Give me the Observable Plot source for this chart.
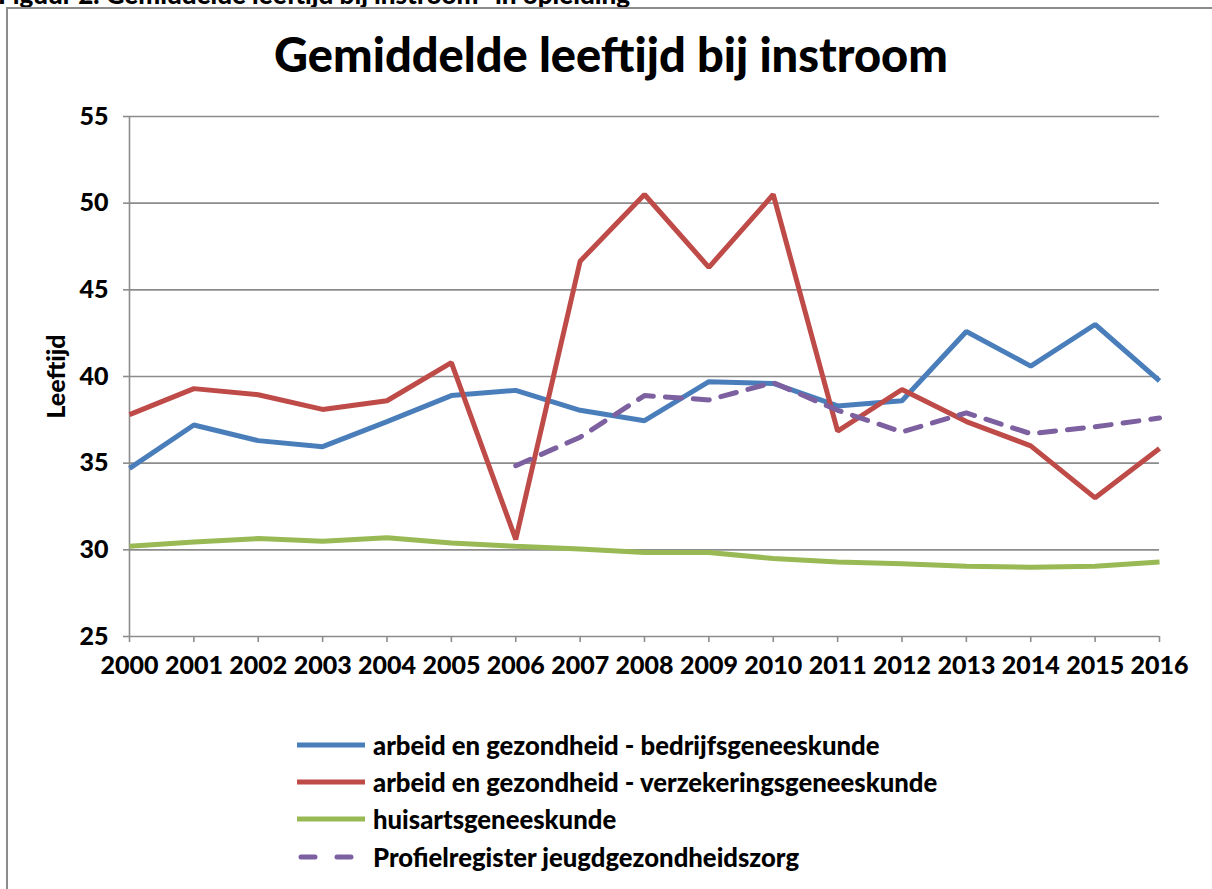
<!DOCTYPE html>
<html>
<head>
<meta charset="utf-8">
<script src="https://cdn.jsdelivr.net/npm/d3@7"></script>
<script src="https://cdn.jsdelivr.net/npm/@observablehq/plot@0.6"></script>
<style>
  html, body { margin: 0; padding: 0; background: #fff; width: 1212px; height: 889px; overflow: hidden; }
  body { position: relative; font-family: Lato, "Open Sans", sans-serif; color: #000; }
  #caption { position: absolute; left: -2px; top: -19px; font-size: 26px; line-height: 26px; font-weight: 900; white-space: nowrap; }
  #frame { position: absolute; left: 6px; top: 7px; width: 1220px; height: 900px; border-left: 2px solid #8c8c8c; border-top: 2px solid #8c8c8c; }
  #title { position: absolute; left: 0; width: 1222px; top: 24px; text-align: center; font-size: 47px; line-height: 60px; font-weight: 900; }
  #chart { position: absolute; left: 0; top: 0; }
  #legend { position: absolute; left: 297px; top: 726px; }
  .row { display: flex; align-items: center; height: 37.3px; font-size: 25.7px; font-weight: 900; white-space: nowrap; }
  .row svg { margin-right: 6px; }
</style>
</head>
<body>
<div id="caption">Figuur 2. Gemiddelde leeftijd bij instroom* in opleiding</div>
<div id="frame"></div>
<div id="chart"></div>
<div id="title">Gemiddelde leeftijd bij instroom</div>
<div id="legend"></div>
<script>
const years = [2000,2001,2002,2003,2004,2005,2006,2007,2008,2009,2010,2011,2012,2013,2014,2015,2016];
const bedrijfs = [34.7,37.2,36.3,35.95,37.4,38.9,39.2,38.05,37.45,39.7,39.6,38.3,38.6,42.6,40.6,43.0,39.75];
const verzekerings = [37.8,39.3,38.95,38.1,38.6,40.8,30.6,46.65,50.5,46.3,50.5,36.85,39.25,37.4,36.0,33.0,35.85];
const huisarts = [30.2,30.45,30.65,30.5,30.7,30.4,30.2,30.05,29.85,29.85,29.5,29.3,29.2,29.05,29.0,29.05,29.3];
const jgz = [null,null,null,null,null,null,34.85,36.5,38.9,38.65,39.65,38.05,36.8,37.9,36.7,37.1,37.6];
const seriesNames = [
  "arbeid en gezondheid - bedrijfsgeneeskunde",
  "arbeid en gezondheid - verzekeringsgeneeskunde",
  "huisartsgeneeskunde",
  "Profielregister jeugdgezondheidszorg"
];
const seriesColors = ["#4A7EBB", "#BE4B48", "#98B954", "#7D60A0"];
const seriesDash = [null, null, null, "16,12"];
const yTicks = [25,30,35,40,45,50,55];

const allValues = [bedrijfs, verzekerings, huisarts, jgz];
const lineMarks = allValues.map((vals, i) => {
  const rows = years.map((yr, j) => ({year: yr, value: vals[j]})).filter(d => d.value != null);
  return Plot.line(rows, {
    x: "year", y: "value",
    stroke: seriesColors[i], strokeWidth: 5,
    strokeDasharray: seriesDash[i] || undefined,
    strokeLinecap: seriesDash[i] ? "round" : "butt",
    strokeLinejoin: "miter"
  });
});

const chart = Plot.plot({
  width: 1212,
  height: 700,
  marginLeft: 129,
  marginRight: 53,
  marginTop: 116,
  marginBottom: 64,
  style: {fontFamily: "Lato, 'Open Sans', sans-serif", fontSize: "25px", fontWeight: "900", color: "#000", background: "transparent"},
  x: {domain: [2000, 2016]},
  y: {domain: [25, 55]},
  marks: [
    Plot.gridY(yTicks, {stroke: "#8c8c8c", strokeOpacity: 1, strokeWidth: 1.6}),
    Plot.ruleX([2000], {stroke: "#8c8c8c", strokeWidth: 1.6}),
    Plot.axisY({ticks: yTicks, tickSize: 6, tickPadding: 15, stroke: "#8c8c8c", strokeWidth: 1.6, tickFormat: d => String(d), label: null}),
    Plot.axisX({ticks: years, tickSize: 6, tickPadding: 14, stroke: "#8c8c8c", strokeWidth: 1.6, tickFormat: d => String(d), label: null}),
    Plot.text(["Leeftijd"], {frameAnchor: "left", textAnchor: "middle", dx: -73, dy: 0, rotate: -90, fontSize: 25, fontWeight: "900", fill: "#000"}),
    ...lineMarks
  ]
});
document.getElementById("chart").appendChild(chart);

const legend = d3.select("#legend");
seriesNames.forEach((name, i) => {
  const row = legend.append("div").attr("class", "row");
  const s = row.append("svg").attr("width", 70).attr("height", 10);
  s.append("line").attr("x1", seriesDash[i] ? 4 : 0).attr("x2", seriesDash[i] ? 66 : 68).attr("y1", 5).attr("y2", 5)
    .attr("stroke", seriesColors[i]).attr("stroke-width", 5)
    .attr("stroke-dasharray", seriesDash[i] ? "14,22" : null)
    .attr("stroke-linecap", seriesDash[i] ? "round" : "butt");
  row.append("span").text(name);
});
</script>
</body>
</html>
